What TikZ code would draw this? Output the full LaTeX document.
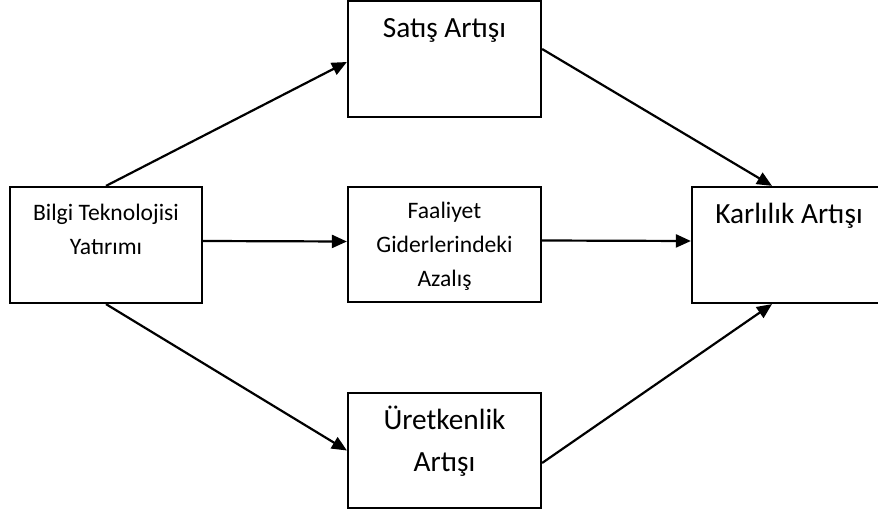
\documentclass[tikz,border=0pt]{standalone}
\usepackage{fontspec}
\setmainfont{Carlito}
\usetikzlibrary{arrows.meta}

\begin{document}
\begin{tikzpicture}[x=1pt,y=-1pt,
  box/.style={draw,line width=2.2pt,minimum width=193pt,minimum height=116pt,inner sep=0pt},
  small/.style={font=\fontsize{23.6}{34}\selectfont,align=center,anchor=base,inner sep=0pt},
  big/.style={font=\fontsize{29.3}{42}\selectfont,align=center,anchor=base,inner sep=0pt},
  arr/.style={line width=2.2pt,-{Triangle[length=15pt,width=13pt]}}]
\useasboundingbox (0,0) rectangle (878,513);
\clip (0,0) rectangle (878,513);
\node[box,minimum width=192pt] (bit) at (106,245) {};
\node[box] (sales) at (444.5,59) {};
\node[box,minimum height=115pt] (cost) at (444.5,244.5) {};
\node[box,minimum height=115pt] (prod) at (444.5,450.5) {};
\node[box,minimum width=194pt] (profit) at (789,245) {};
% base of a multi-line node is its last line
\node[small] (bittxt) at ([yshift=-69pt]bit.north) {Bilgi Teknolojisi\\Yatırımı};
\node[big] (salestxt) at ([yshift=-38pt]sales.north) {Satış Artışı};
\node[small] (costtxt) at ([yshift=-101pt]cost.north) {Faaliyet\\Giderlerindeki\\Azalış};
\node[big] (prodtxt) at ([yshift=-80pt]prod.north) {Üretkenlik\\Artışı};
\node[big] (profittxt) at ([yshift=-38pt]profit.north) {Karlılık Artışı};
\draw[arr] (bit.north) -- ([yshift=-3pt]sales.west);
\draw[arr] ([yshift=4pt]bit.east) -- ([yshift=3pt]cost.west);
\draw[arr] (bit.south) -- (cost.west |- prod.west);
\draw[arr] ([yshift=10pt]sales.east) -- ([xshift=-17pt]profit.north);
\draw[arr] ([yshift=4pt]cost.east) -- ([yshift=4pt]profit.west);
\draw[arr] ([yshift=-12.5pt]prod.east) -- ([xshift=-17pt]profit.south);
\end{tikzpicture}
\end{document}
